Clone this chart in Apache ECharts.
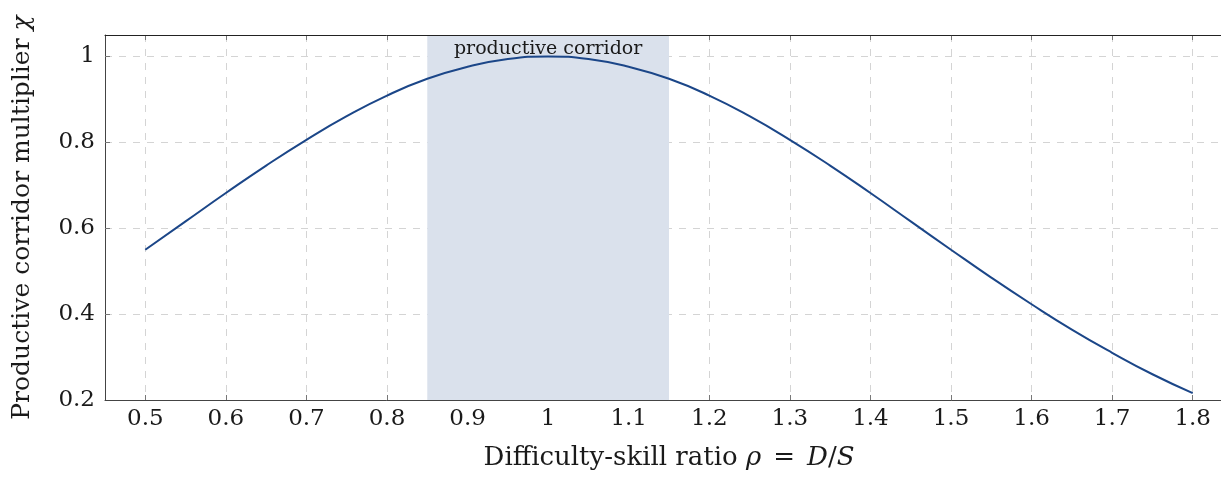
<!DOCTYPE html>
<html>
<head>
<meta charset="utf-8">
<script src="https://cdn.jsdelivr.net/npm/echarts@6/dist/echarts.min.js"></script>
<style>
html,body{margin:0;padding:0;overflow:hidden;background:#fff;}
#chart{width:1240px;height:477px;}
</style>
</head>
<body>
<div id="chart"></div>
<script>
// Data
const rhoValues = [0.50,0.55,0.60,0.65,0.70,0.75,0.80,0.85,0.90,0.95,1.00,1.05,1.10,1.15,1.20,1.25,1.30,1.35,1.40,1.45,1.50,1.55,1.60,1.65,1.70,1.75,1.80];
const chiValues = [0.550,0.616,0.682,0.746,0.806,0.861,0.909,0.948,0.976,0.994,1.000,0.994,0.976,0.948,0.909,0.861,0.806,0.746,0.682,0.616,0.550,0.485,0.423,0.364,0.310,0.260,0.216];
const xTicks = [0.5,0.6,0.7,0.8,0.9,1.0,1.1,1.2,1.3,1.4,1.5,1.6,1.7,1.8];
const yTicks = [0.2,0.4,0.6,0.8,1.0];
const corridor = [0.85, 1.15];
const corridorLabel = 'productive corridor';
const xTitle = 'Difficulty-skill ratio ';
const yTitle = 'Productive corridor multiplier ';

const FONT = 'DejaVu Serif';
const FS = 23;
const TFS = 25;
const XFS = 26;
const TXT = '#1a1a1a';
const fmt = v => String(Math.round(v * 100) / 100);
const X_MIN = 0.45, X_MAX = 1.85, Y_MIN = 0.2, Y_MAX = 1.05;

const chart = echarts.init(document.getElementById('chart'), null, {renderer: 'canvas'});
const baseX = {type: 'value', min: X_MIN, max: X_MAX, gridIndex: 0, splitLine: {show: false}};
const tickLine = {color: '#777', width: 1};
chart.setOption({
  animation: false,
  grid: {left: 105, right: 7, top: 35, bottom: 77, containLabel: false},
  xAxis: [
    Object.assign({}, baseX, {
      position: 'bottom', z: 0,
      axisLine: {show: false},
      axisTick: {show: true, inside: true, length: 5, customValues: xTicks, lineStyle: tickLine},
      axisLabel: {margin: 8, fontFamily: FONT, fontSize: FS, color: TXT, customValues: xTicks, formatter: fmt},
      splitLine: {show: true, lineStyle: {color: '#d4d4d4', type: [7, 7], width: 1}},
      name: '{t|' + xTitle + '}{i|ρ}{e|=}{i|D}{t|/}{i|S}',
      nameLocation: 'middle', nameGap: 45,
      nameTextStyle: {
        rich: {
          t: {fontFamily: FONT, fontSize: XFS, color: TXT},
          e: {fontFamily: FONT, fontSize: XFS, color: TXT, padding: [0, 12, 0, 12]},
          i: {fontFamily: FONT, fontSize: XFS, color: TXT, fontStyle: 'italic'}
        }
      }
    }),
    Object.assign({}, baseX, {
      position: 'top', z: 0,
      axisLine: {show: false},
      axisTick: {show: true, inside: true, length: 5, customValues: xTicks, lineStyle: tickLine},
      axisLabel: {show: false}
    }),
    Object.assign({}, baseX, {
      position: 'bottom', z: 10,
      axisLine: {show: true, onZero: false, lineStyle: {color: '#444', width: 1}},
      axisTick: {show: false}, axisLabel: {show: false}
    }),
    Object.assign({}, baseX, {
      position: 'top', z: 10,
      axisLine: {show: true, onZero: false, lineStyle: {color: '#222', width: 1}},
      axisTick: {show: false}, axisLabel: {show: false}
    })
  ],
  yAxis: [{
    type: 'value', min: Y_MIN, max: Y_MAX, interval: 0.2,
    axisLine: {show: true, lineStyle: {color: '#444', width: 1}},
    axisTick: {show: true, inside: true, length: 5, customValues: yTicks, lineStyle: tickLine},
    axisLabel: {margin: 10, fontFamily: FONT, fontSize: FS, color: TXT, customValues: yTicks, formatter: fmt},
    splitLine: {show: true, lineStyle: {color: '#d4d4d4', type: [7, 7], width: 1}},
    name: '{t|' + yTitle + '}{i|χ}',
    nameLocation: 'middle', nameGap: 70, nameRotate: 90,
    nameTextStyle: {
      rich: {
        t: {fontFamily: FONT, fontSize: TFS, color: TXT},
        i: {fontFamily: FONT, fontSize: TFS, color: TXT, fontStyle: 'italic'}
      }
    }
  }],
  series: [{
    type: 'line', xAxisIndex: 0, yAxisIndex: 0,
    data: rhoValues.map((r, i) => [r, chiValues[i]]),
    smooth: 0.5, showSymbol: false, symbol: 'none',
    lineStyle: {color: '#1b4688', width: 2},
    z: 3,
    markArea: {
      silent: true,
      itemStyle: {color: '#dae1ec'},
      label: {show: true, position: 'insideTop', distance: 5, formatter: corridorLabel, fontFamily: FONT, fontSize: 19, color: TXT},
      data: [[{xAxis: corridor[0], yAxis: Y_MIN}, {xAxis: corridor[1], yAxis: Y_MAX}]]
    }
  }]
});
</script>
</body>
</html>
